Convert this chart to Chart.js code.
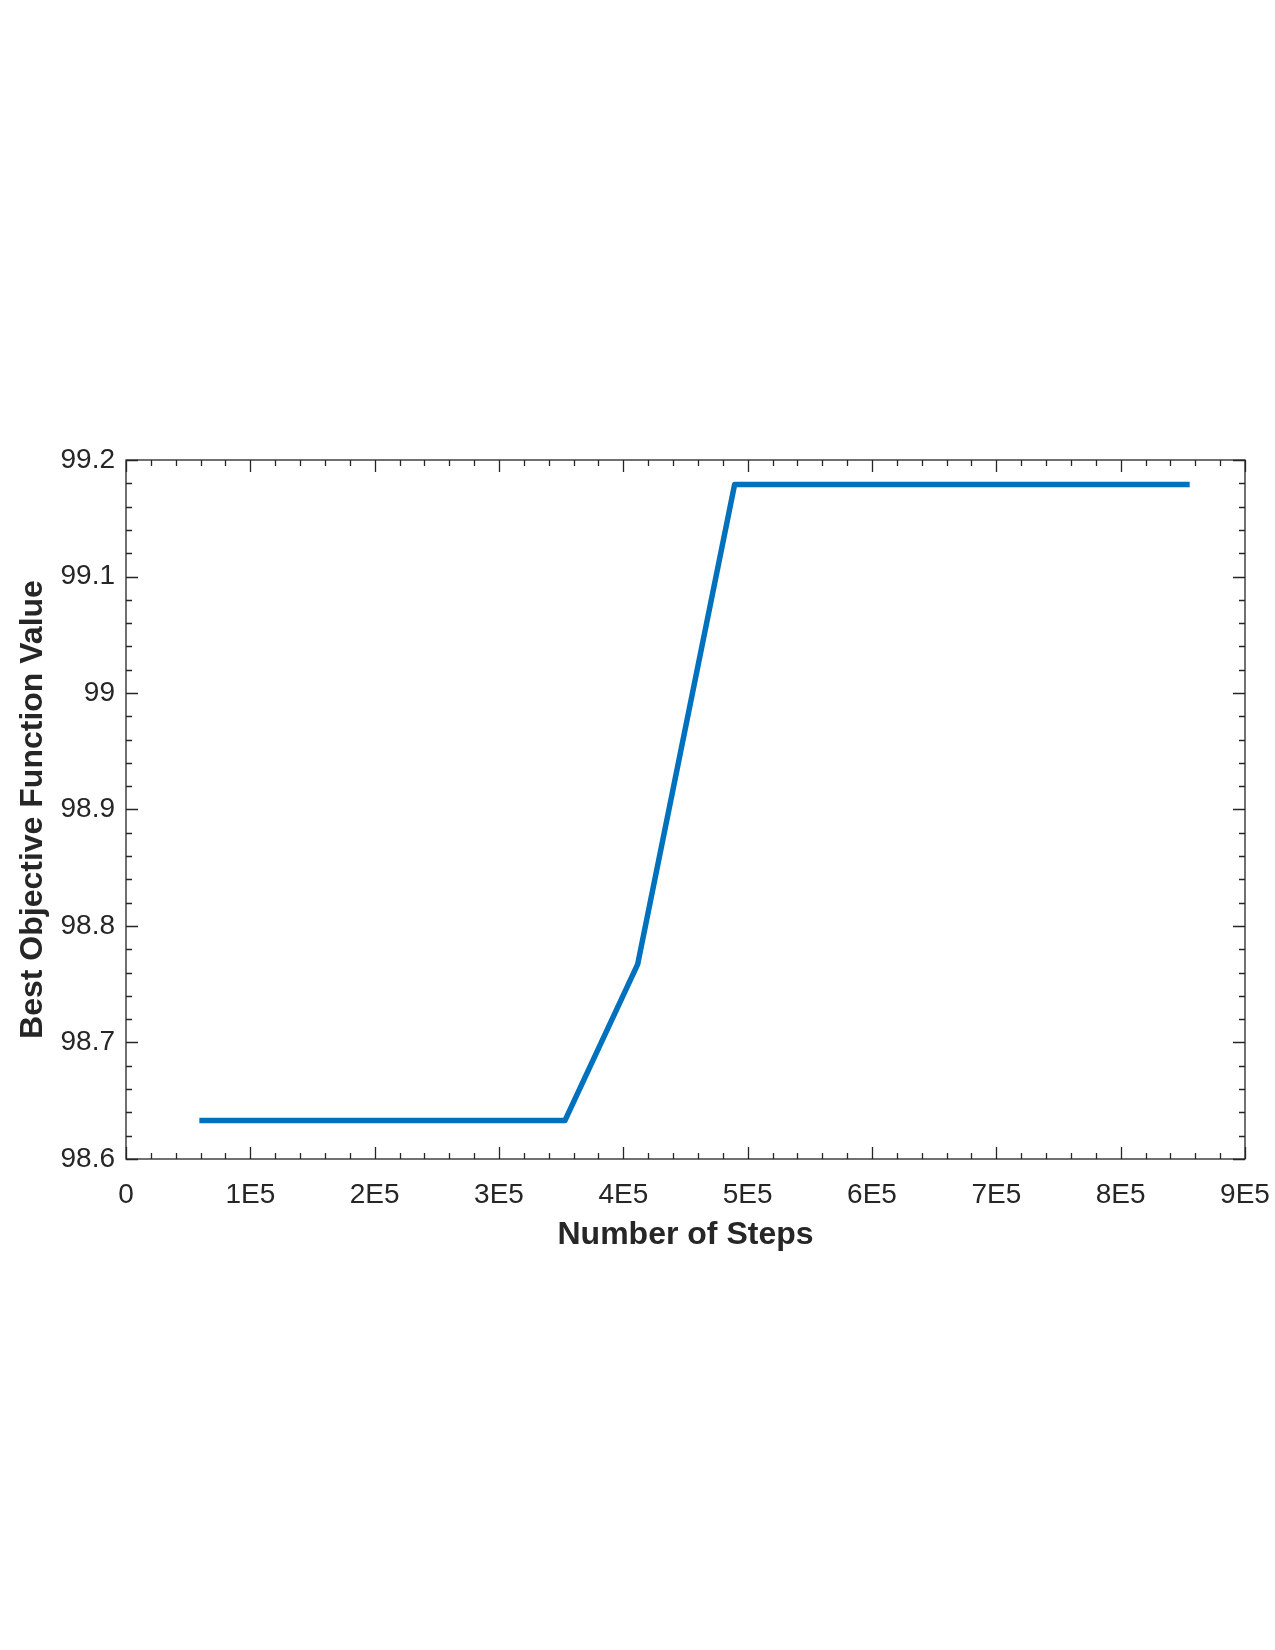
<!DOCTYPE html>
<html>
<head>
<meta charset="utf-8">
<title>Best Objective Function Value</title>
<script src="https://cdn.jsdelivr.net/npm/chart.js@4/dist/chart.umd.min.js"></script>
<style>
  html, body { margin: 0; padding: 0; background: #fff; }
  canvas { display: block; }
</style>
</head>
<body>
<canvas id="stepsChart" width="1275" height="1650"></canvas>
<script>
// values
const steps = [59000, 353000, 411500, 489500, 855500];
const bestValue = [98.633, 98.633, 98.767, 99.179, 99.179];

const xTicks = [0, 100000, 200000, 300000, 400000, 500000, 600000, 700000, 800000, 900000];
const xTickLabels = ['0', '1E5', '2E5', '3E5', '4E5', '5E5', '6E5', '7E5', '8E5', '9E5'];
const yTicks = [98.6, 98.7, 98.8, 98.9, 99, 99.1, 99.2];
const yTickLabels = ['98.6', '98.7', '98.8', '98.9', '99', '99.1', '99.2'];

const axisColor = '#262626';
const fontFamily = '"Liberation Sans", Arial, Helvetica, sans-serif';

// matlab-style box with inward major/minor ticks on all four sides
const boxTicks = {
    id: 'boxTicks',
    afterDatasetsDraw(chart) {
        const { ctx, chartArea: a, scales: { x, y } } = chart;
        const minorOf = (ticks) => {
            const out = [];
            for (let i = 0; i < ticks.length - 1; i++) {
                const d = (ticks[i + 1] - ticks[i]) / 5;
                for (let k = 1; k < 5; k++) out.push(ticks[i] + d * k);
            }
            return out;
        };
        ctx.save();
        ctx.strokeStyle = axisColor;
        ctx.lineWidth = 1.3;
        ctx.beginPath();
        const tick = (vals, len, horiz) => {
            vals.forEach(v => {
                if (horiz) {
                    const px = Math.round(x.getPixelForValue(v)) + 0.5;
                    ctx.moveTo(px, a.bottom); ctx.lineTo(px, a.bottom - len);
                    ctx.moveTo(px, a.top); ctx.lineTo(px, a.top + len);
                } else {
                    const py = Math.round(y.getPixelForValue(v)) + 0.5;
                    ctx.moveTo(a.left, py); ctx.lineTo(a.left + len, py);
                    ctx.moveTo(a.right, py); ctx.lineTo(a.right - len, py);
                }
            });
        };
        tick(xTicks, 12, true);
        tick(minorOf(xTicks), 6, true);
        tick(yTicks, 12, false);
        tick(minorOf(yTicks), 6, false);
        ctx.stroke();
        ctx.strokeRect(a.left, a.top, a.right - a.left, a.bottom - a.top);
        ctx.restore();
    }
};

new Chart(document.getElementById('stepsChart'), {
    type: 'line',
    data: {
        datasets: [{
            data: steps.map((s, i) => ({ x: s, y: bestValue[i] })),
            borderColor: '#0072BD',
            borderWidth: 5.5,
            borderJoinStyle: 'round',
            borderCapStyle: 'butt',
            pointRadius: 0,
            tension: 0,
            fill: false
        }]
    },
    options: {
        responsive: false,
        animation: false,
        devicePixelRatio: 1,
        layout: { padding: { top: 460, right: 30, bottom: 396, left: 0 } },
        plugins: { legend: { display: false }, tooltip: { enabled: false } },
        scales: {
            x: {
                type: 'linear',
                min: 0,
                max: 900000,
                afterBuildTicks: (s) => { s.ticks = xTicks.map(v => ({ value: v })); },
                afterFit: (s) => { s.height = 95; s.paddingLeft = 0; s.paddingRight = 0; },
                grid: { display: false, drawTicks: false },
                border: { display: false },
                ticks: {
                    autoSkip: false,
                    maxRotation: 0,
                    padding: 19,
                    color: axisColor,
                    font: { family: fontFamily, size: 28 },
                    callback: (v, i) => xTickLabels[i]
                },
                title: {
                    display: true,
                    text: 'Number of Steps',
                    color: axisColor,
                    padding: 0,
                    font: { family: fontFamily, size: 32, weight: 'bold' }
                }
            },
            y: {
                min: 98.6,
                max: 99.2,
                afterBuildTicks: (s) => { s.ticks = yTicks.map(v => ({ value: v })); },
                afterFit: (s) => { s.width = 126; s.paddingTop = 0; s.paddingBottom = 0; },
                grid: { display: false, drawTicks: false },
                border: { display: false },
                ticks: {
                    autoSkip: false,
                    padding: 11,
                    color: axisColor,
                    font: { family: fontFamily, size: 28 },
                    callback: (v, i) => yTickLabels[i]
                },
                title: {
                    display: true,
                    text: 'Best Objective Function Value',
                    color: axisColor,
                    padding: { top: 14, bottom: 0 },
                    font: { family: fontFamily, size: 32, weight: 'bold' }
                }
            }
        }
    },
    plugins: [boxTicks]
});
</script>
</body>
</html>
